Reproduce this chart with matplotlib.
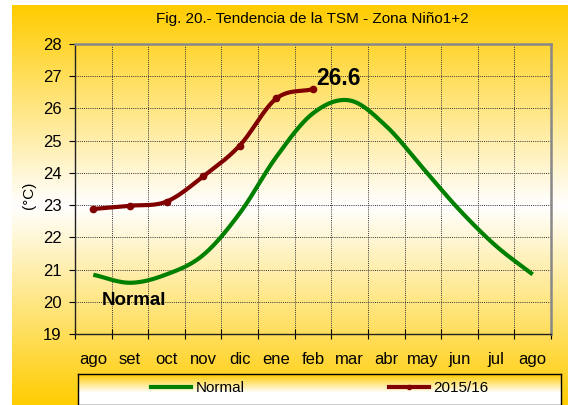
import numpy as np
import matplotlib
matplotlib.use("Agg")
import matplotlib.pyplot as plt
from matplotlib.lines import Line2D

plt.rcParams['font.family'] = ['Liberation Sans', 'DejaVu Sans']

# datos
meses = ["ago", "set", "oct", "nov", "dic", "ene", "feb", "mar", "abr",
         "may", "jun", "jul", "ago"]
normal = [20.84, 20.59, 20.85, 21.45, 22.75, 24.5, 25.85, 26.25, 25.45,
          24.15, 22.85, 21.73, 20.85]
tsm_2015 = [22.88, 22.98, 23.11, 23.89, 24.85, 26.31, 26.6]

W, H = 568, 405
GOLD = np.array([255, 204, 0]) / 255.0
WHITE = np.array([1.0, 1.0, 1.0])


def suavizar(y, n=24):
    """curva tipo 'linea suavizada' de Excel (Catmull-Rom) solo para dibujar"""
    y = np.asarray(y, dtype=float)
    x = np.arange(len(y), dtype=float)
    p = np.concatenate([[2 * y[0] - y[1]], y, [2 * y[-1] - y[-2]]])
    xs, ys = [], []
    t = np.linspace(0, 1, n, endpoint=False)
    for i in range(len(y) - 1):
        p0, p1, p2, p3 = p[i], p[i + 1], p[i + 2], p[i + 3]
        yy = 0.5 * ((2 * p1) + (-p0 + p2) * t + (2 * p0 - 5 * p1 + 4 * p2 - p3) * t ** 2
                    + (-p0 + 3 * p1 - 3 * p2 + p3) * t ** 3)
        xs.append(x[i] + t)
        ys.append(yy)
    xs.append([x[-1]])
    ys.append([y[-1]])
    return np.concatenate(xs), np.concatenate(ys)


fig = plt.figure(figsize=(W / 100, H / 100), dpi=100)
fig.patch.set_facecolor("white")

# fondo degradado dorado -> blanco -> dorado
bg = fig.add_axes([12 / W, 0, 1 - 12 / W, 400 / H], zorder=-2)
rows = np.arange(5, 405)
frac = np.clip(np.abs(rows - 205) / 200.0, 0, 1)[:, None]
grad = WHITE * (1 - frac) + GOLD * frac
bg.imshow(grad[:, None, :], aspect="auto", extent=[0, 1, 0, 1])
bg.set_axis_off()

ax = fig.add_axes([75 / W, 1 - 334 / H, 476 / W, 290 / H])
ax.set_facecolor("none")

x = np.arange(len(meses))
xs, ys = suavizar(normal)
ax.plot(xs, ys, color="#008000", lw=3.0, solid_capstyle="butt", zorder=3)

xr = np.arange(len(tsm_2015))
xs2, ys2 = suavizar(tsm_2015)
ax.plot(xs2, ys2, color="#800000", lw=3.0, zorder=4)
ax.plot(xr, tsm_2015, "o", color="#800000", ms=4.5, zorder=5)

ax.annotate(f"{tsm_2015[-1]:.1f}", xy=(xr[-1], tsm_2015[-1]), xytext=(2, 3),
            textcoords="offset points", va="baseline", ha="left",
            fontsize=16.5, fontweight="bold")
ax.text(0.23, 19.9, "Normal", fontsize=13.5, fontweight="bold", va="baseline")

ax.set_xlim(-0.5, len(meses) - 0.5)
ax.set_ylim(19, 28)
ax.set_yticks(range(19, 29))
ax.set_xticks(np.arange(-0.5, len(meses)), [""] * (len(meses) + 1))
ax.set_xticks(x, meses, minor=True)
ax.tick_params(axis="x", which="minor", length=0, pad=13, labelsize=12)
ax.tick_params(axis="x", which="major", direction="inout", length=7, width=0.8)
ax.tick_params(axis="y", direction="out", length=4.5, width=0.8, pad=5, labelsize=12)
ax.grid(True, which="major", color="#333333", lw=0.7, ls=(0, (1, 1.2)))

for s in ("left", "bottom"):
    ax.spines[s].set_color("#222222")
    ax.spines[s].set_linewidth(1.0)
for s in ("top", "right"):
    ax.spines[s].set_color("#888888")
    ax.spines[s].set_linewidth(1.8)

fig.text(312 / W, 1 - 19 / H, "Fig. 20.- Tendencia de la TSM - Zona Niño1+2",
         ha="center", va="center", fontsize=11)
fig.text(29 / W, 1 - 195 / H, "(°C)", rotation=90, ha="center", va="center",
         fontsize=11)

# caja de la leyenda con degradado
lg = fig.add_axes([78 / W, 0, (561 - 78) / W, (405 - 374) / H], zorder=1)
lrows = np.arange(374, 405)
lfrac = np.clip((lrows - 374) / 18.0, 0, 1)[:, None]
lgrad = GOLD * (1 - lfrac) + WHITE * lfrac
lg.imshow(lgrad[:, None, :], aspect="auto", extent=[0, 1, 0, 1])
lg.set_xticks([])
lg.set_yticks([])
for s in lg.spines.values():
    s.set_color("black")
    s.set_linewidth(1.0)

handles = [Line2D([], [], color="#008000", lw=3.0),
           Line2D([], [], color="#800000", lw=3.0, marker="o", ms=3)]
leg = fig.legend(handles, ["Normal", "2015/16"], loc="center left",
                 bbox_to_anchor=(151 / W, 1 - 388 / H), ncol=2, frameon=False,
                 fontsize=11, handlelength=2.65, handletextpad=0.3,
                 columnspacing=9.4, borderpad=0, borderaxespad=0)
leg.set_zorder(3)

fig.savefig("out.png", dpi=100)
